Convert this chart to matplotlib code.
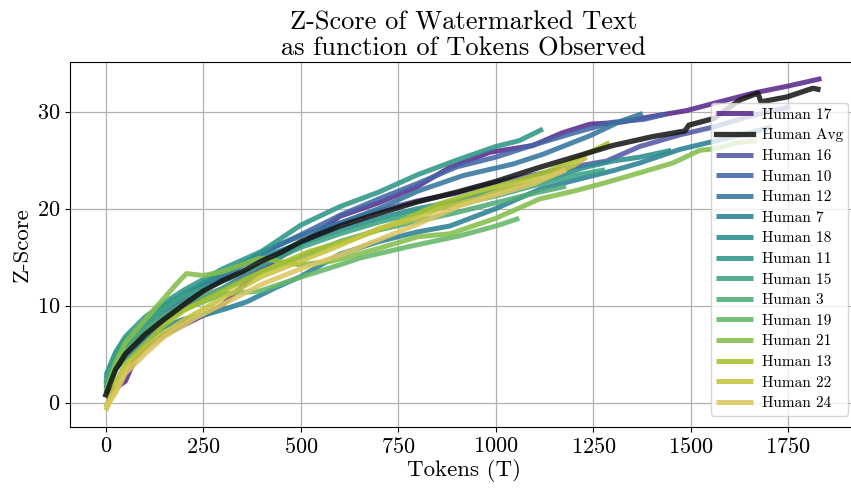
import matplotlib
matplotlib.use("Agg")
import matplotlib.pyplot as plt

plt.rcParams['font.family'] = 'serif'
plt.rcParams['font.serif'] = ['cmr10']
plt.rcParams['mathtext.fontset'] = 'cm'
plt.rcParams['axes.formatter.use_mathtext'] = True

# --- values (tokens, z-score) ---
h17_t = [0, 25, 50, 75, 100, 150, 200, 250, 300, 350, 400, 500, 600, 700, 800, 880, 985, 1095, 1170, 1241, 1320, 1387, 1489, 1574, 1660, 1746, 1835]
h17_z = [1.0, 1.5, 2.2, 4.5, 5.5, 7.0, 8.0, 9.0, 10.1, 12.0, 13.8, 16.3, 19.2, 20.6, 22.3, 24.2, 25.8, 26.5, 27.8, 28.7, 28.9, 29.4, 30.1, 31.0, 31.9, 32.6, 33.4]

avg_t = [0, 25, 50, 100, 150, 200, 250, 300, 350, 400, 450, 500, 600, 700, 800, 900, 1000, 1100, 1200, 1300, 1400, 1485, 1495, 1560, 1626, 1672, 1680, 1746, 1813, 1826]
avg_z = [0.8, 3.4, 5.0, 7.0, 8.6, 10.1, 11.5, 12.6, 13.5, 14.6, 15.5, 16.6, 18.2, 19.5, 20.7, 21.7, 22.8, 24.1, 25.3, 26.5, 27.4, 28.0, 28.6, 29.3, 31.2, 31.9, 31.0, 31.5, 32.4, 32.3]

h16_t = [0, 25, 50, 100, 150, 200, 300, 400, 500, 600, 700, 800, 900, 1000, 1100, 1200, 1284, 1369, 1472, 1557, 1650, 1754]
h16_z = [1.5, 3.5, 5.0, 6.8, 8.5, 9.6, 11.8, 14.0, 16.4, 18.5, 19.8, 20.8, 21.6, 22.7, 23.5, 24.3, 24.9, 26.4, 27.6, 28.4, 29.5, 30.5]

h10_t = [0, 25, 50, 100, 150, 200, 300, 400, 500, 600, 700, 800, 900, 1000, 1100, 1200, 1300, 1380, 1433]
h10_z = [2.0, 4.5, 6.0, 7.8, 9.5, 11.0, 13.3, 15.4, 17.3, 19.3, 21.0, 22.6, 24.3, 25.3, 26.6, 27.8, 28.9, 29.2, 29.7]

h12_t = [0, 25, 50, 100, 150, 200, 300, 400, 500, 600, 700, 800, 916, 1045, 1121, 1241, 1320, 1377]
h12_z = [1.8, 4.0, 5.5, 7.5, 9.0, 10.5, 12.8, 15.5, 17.2, 18.5, 20.0, 21.8, 23.4, 24.6, 25.6, 27.5, 29.0, 29.8]

h7_t = [0, 25, 50, 100, 150, 200, 250, 310, 362, 433, 500, 600, 700, 800, 882, 1000, 1113, 1200, 1300, 1369, 1472, 1566, 1650, 1707]
h7_z = [1.5, 3.5, 4.5, 6.3, 7.8, 8.6, 9.0, 9.7, 10.4, 11.8, 13.0, 15.3, 16.6, 17.6, 18.2, 20.0, 22.0, 22.9, 23.9, 24.7, 26.1, 27.0, 27.8, 28.4]

h18_t = [0, 25, 50, 100, 150, 200, 300, 400, 500, 600, 700, 800, 900, 1000, 1100, 1223, 1300, 1369, 1450]
h18_z = [2.5, 5.0, 6.5, 8.2, 10.0, 11.2, 13.4, 15.0, 16.4, 17.8, 19.0, 20.0, 20.8, 21.8, 22.6, 24.2, 24.9, 25.3, 26.0]

h11_t = [0, 25, 50, 100, 150, 200, 300, 400, 500, 600, 700, 800, 900, 1000, 1060, 1121]
h11_z = [2.8, 5.2, 6.8, 8.8, 10.3, 11.6, 13.8, 15.6, 18.3, 20.2, 21.7, 23.5, 25.0, 26.4, 27.0, 28.2]

h15_t = [0, 25, 50, 100, 150, 200, 300, 400, 500, 600, 700, 800, 900, 1000, 1100, 1200, 1280]
h15_z = [2.2, 4.8, 6.2, 8.0, 9.7, 11.0, 12.5, 14.2, 16.0, 17.4, 18.6, 19.6, 20.4, 21.3, 22.4, 23.4, 24.0]

h3_t = [0, 25, 50, 100, 150, 200, 300, 400, 500, 600, 700, 800, 900, 1000, 1100, 1180]
h3_z = [1.8, 4.2, 5.8, 7.5, 9.0, 10.2, 11.8, 13.5, 15.0, 16.6, 17.8, 18.7, 19.6, 20.6, 21.6, 22.3]

h19_t = [0, 25, 50, 100, 150, 200, 300, 395, 497, 600, 651, 779, 908, 1000, 1060]
h19_z = [1.2, 3.8, 5.2, 7.0, 8.5, 9.6, 11.2, 11.5, 12.9, 14.2, 14.9, 16.1, 17.2, 18.2, 19.0]

h21_t = [0, 25, 50, 100, 150, 185, 207, 250, 300, 395, 497, 582, 700, 800, 882, 1000, 1113, 1200, 1284, 1370, 1454, 1523, 1566, 1620, 1670]
h21_z = [1.0, 4.0, 6.2, 8.5, 10.8, 12.4, 13.3, 13.1, 13.5, 14.9, 14.2, 14.6, 15.9, 17.1, 17.4, 19.0, 21.0, 21.8, 22.7, 23.7, 24.7, 26.0, 26.2, 26.8, 27.0]

h13_t = [0, 25, 50, 100, 150, 200, 300, 400, 523, 651, 750, 856, 959, 1050, 1131, 1200, 1292]
h13_z = [-0.5, 2.0, 4.0, 6.0, 8.0, 9.5, 11.5, 13.5, 15.6, 17.1, 18.6, 20.5, 21.8, 22.8, 23.8, 25.0, 26.8]

h22_t = [0, 25, 50, 100, 150, 200, 300, 400, 500, 600, 703, 800, 856, 950, 1028, 1120, 1197, 1233]
h22_z = [-0.8, 1.5, 3.5, 5.5, 7.2, 8.5, 10.8, 13.0, 14.6, 16.2, 18.0, 19.0, 20.0, 21.0, 22.1, 23.2, 24.4, 25.3]

h24_t = [0, 25, 50, 100, 150, 200, 228, 313, 400, 500, 600, 700, 800, 908, 1000, 1100, 1180]
h24_z = [-0.5, 1.0, 3.0, 5.0, 6.8, 8.0, 8.7, 10.4, 12.2, 13.8, 15.2, 16.8, 18.4, 20.3, 21.4, 22.6, 24.0]

labels = ["Human 17", "Human Avg", "Human 16", "Human 10", "Human 12", "Human 7", "Human 18",
          "Human 11", "Human 15", "Human 3", "Human 19", "Human 21", "Human 13", "Human 22", "Human 24"]
series = [(h17_t, h17_z), (avg_t, avg_z), (h16_t, h16_z), (h10_t, h10_z), (h12_t, h12_z),
          (h7_t, h7_z), (h18_t, h18_z), (h11_t, h11_z), (h15_t, h15_z), (h3_t, h3_z),
          (h19_t, h19_z), (h21_t, h21_z), (h13_t, h13_z), (h22_t, h22_z), (h24_t, h24_z)]
colors = ["#5a2a8c", "#111111", "#5558a8", "#4466a6", "#35759e", "#2a8094", "#2b8c8e",
          "#2f9789", "#3ca384", "#4fab78", "#66b76a", "#84bf4c", "#a6c12c", "#c6c43f", "#dcc762"]

fig = plt.figure(figsize=(8.51, 4.9), dpi=100)
# the right edge of the axes runs just past the picture, as in the reference
ax = fig.add_axes([0.0823, 0.1286, 0.925, 0.7449])

handles = {}
# humans first, average on top
for i, (lab, (t, z)) in enumerate(zip(labels, series)):
    if lab == "Human Avg":
        continue
    handles[lab], = ax.plot(t, z, color=colors[i], lw=3.6, alpha=0.88, solid_capstyle='butt')
i = labels.index("Human Avg")
handles["Human Avg"], = ax.plot(series[i][0], series[i][1], color=colors[i], lw=3.8, alpha=0.85)

ax.grid(True, color="#b0b0b0", lw=0.9)
ax.set_axisbelow(True)
ax.set_xticks([0, 250, 500, 750, 1000, 1250, 1500, 1750])
ax.set_yticks([0, 10, 20, 30])
ax.tick_params(labelsize=16)
ax.set_xlabel("Tokens (T)", fontsize=16.5, labelpad=2)
ax.set_ylabel("Z-Score", fontsize=16.5, labelpad=4)
ax.set_title("Z-Score of Watermarked Text\nas function of Tokens Observed", fontsize=19, linespacing=1.1, pad=5)

leg = ax.legend([handles[l] for l in labels], labels, loc="upper right",
                bbox_to_anchor=(0.9886, 0.889), borderaxespad=0, fontsize=11,
                labelspacing=0.45, handlelength=2.4, handletextpad=0.6,
                borderpad=0.35, framealpha=0.8)

fig.savefig("out.png", dpi=100)
